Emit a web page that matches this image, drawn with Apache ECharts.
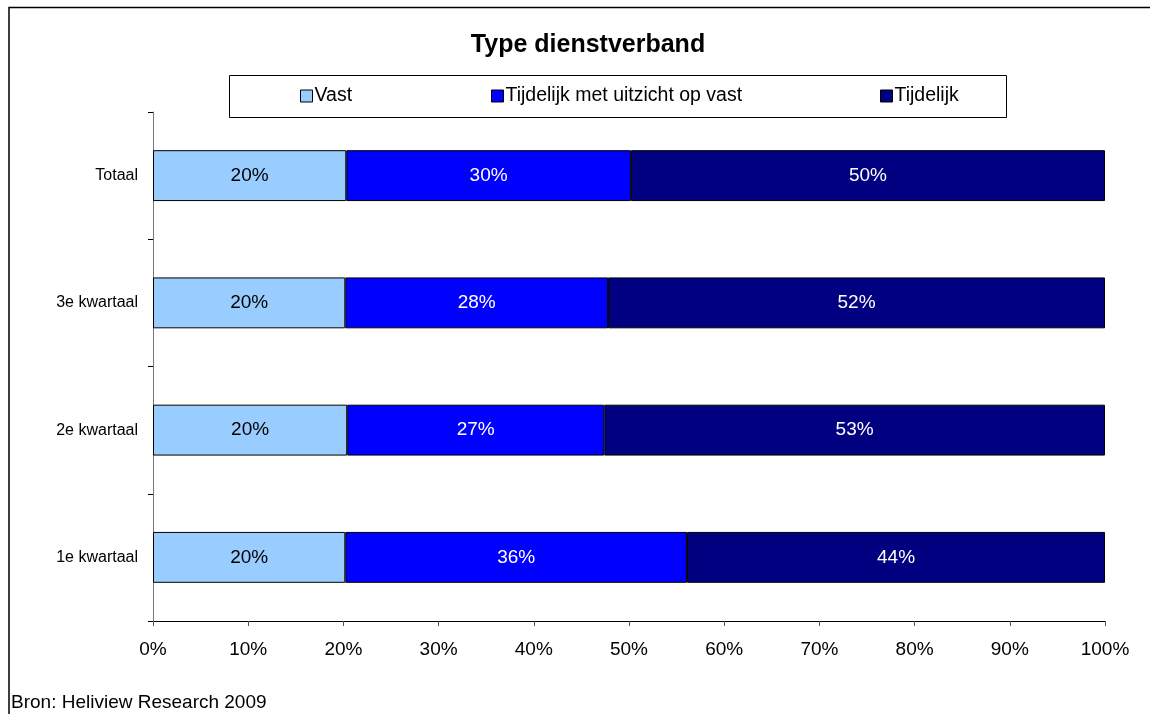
<!DOCTYPE html>
<html>
<head>
<meta charset="utf-8">
<script src="https://cdn.jsdelivr.net/npm/echarts@6/dist/echarts.min.js"></script>
<style>
  html, body { margin: 0; padding: 0; background: #fff; }
  #main { width: 1150px; height: 714px; }
</style>
</head>
<body>
<div id="main"></div>
<script>
// categories top to bottom
const categories = ['Totaal', '3e kwartaal', '2e kwartaal', '1e kwartaal']
const seriesNames = ['Vast', 'Tijdelijk met uitzicht op vast', 'Tijdelijk']
// percentages
const vast = [20.3, 20.2, 20.4, 20.2]
const tijdelijkUitzicht = [29.9, 27.6, 27.0, 35.9]
const tijdelijk = [49.8, 52.2, 52.6, 43.9]
const xTicks = [0, 10, 20, 30, 40, 50, 60, 70, 80, 90, 100]

const colors = ['#99ccff', '#0000ff', '#000080']
const labelColors = ['#000', '#fff', '#fff']
const font = 'Arial, "Liberation Sans", sans-serif'

const chart = echarts.init(document.getElementById('main'))

const makeSeries = (name, data, i) => ({
  name: name,
  type: 'bar',
  stack: 'total',
  barWidth: '40%',
  data: data,
  itemStyle: { color: colors[i], borderColor: '#000', borderWidth: 1 },
  label: {
    show: true,
    position: 'inside',
    color: labelColors[i],
    fontSize: 19,
    fontFamily: font,
    formatter: (p) => Math.round(p.value) + '%'
  },
  emphasis: { disabled: true }
})

// one legend per item so each sits where it does in the original
const legendX = [300, 491, 880]
const legends = seriesNames.map((n, i) => ({
  data: [n],
  left: legendX[i],
  top: 86,
  padding: 0,
  itemWidth: 12,
  itemHeight: 12,
  icon: 'rect',
  selectedMode: false,
  itemStyle: { borderColor: '#000', borderWidth: 1 },
  textStyle: { fontSize: 19.5, fontFamily: font, color: '#000', padding: [0, 0, 0, -3] }
}))

const option = {
  animation: false,
  textStyle: { fontFamily: font },
  legend: legends,
  graphic: [
    {
      type: 'rect',
      z: -10,
      shape: { x: 9, y: 7.5, width: 1200, height: 800 },
      style: { fill: '#fff', stroke: '#000', lineWidth: 1.5 }
    },
    {
      type: 'rect',
      z: -5,
      shape: { x: 229.5, y: 75.5, width: 777, height: 42 },
      style: { fill: '#fff', stroke: '#000', lineWidth: 1 }
    },
    {
      type: 'text',
      x: 588,
      y: 45,
      style: {
        text: 'Type dienstverband',
        fontSize: 25,
        fontWeight: 'bold',
        fontFamily: font,
        fill: '#000',
        align: 'center',
        verticalAlign: 'middle'
      }
    },
    {
      type: 'text',
      x: 11,
      y: 703,
      style: {
        text: 'Bron: Heliview Research 2009',
        fontSize: 19,
        fontFamily: font,
        fill: '#000',
        verticalAlign: 'middle'
      }
    }
  ],
  grid: { left: 153, right: 45, top: 112, bottom: 93 },
  xAxis: {
    type: 'value',
    min: xTicks[0],
    max: xTicks[xTicks.length - 1],
    interval: 10,
    axisLine: { show: true, lineStyle: { color: '#000', width: 1 } },
    axisTick: { show: true, length: 5, lineStyle: { color: '#555' } },
    splitLine: { show: false },
    axisLabel: { formatter: '{value}%', fontSize: 19, color: '#000', margin: 19 }
  },
  yAxis: {
    type: 'category',
    inverse: true,
    data: categories,
    axisLine: { show: true, lineStyle: { color: '#777', width: 1 } },
    axisTick: { show: true, length: 5, lineStyle: { color: '#000' } },
    axisLabel: { fontSize: 16, color: '#000', margin: 15 }
  },
  series: [
    makeSeries(seriesNames[0], vast, 0),
    makeSeries(seriesNames[1], tijdelijkUitzicht, 1),
    makeSeries(seriesNames[2], tijdelijk, 2)
  ]
}

chart.setOption(option)
</script>
</body>
</html>
